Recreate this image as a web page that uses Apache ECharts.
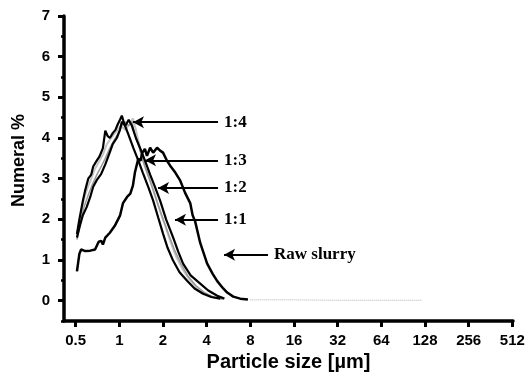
<!DOCTYPE html>
<html>
<head>
<meta charset="utf-8">
<script src="https://cdn.jsdelivr.net/npm/echarts@6/dist/echarts.min.js"></script>
<style>
  html, body { margin: 0; padding: 0; background: #fff; }
  #chart { width: 529px; height: 381px; }
</style>
</head>
<body>
<div id="chart"></div>
<script>
// 坐标轴刻度
const xTicks = [0.5, 1, 2, 4, 8, 16, 32, 64, 128, 256, 512]
const yTicks = [0, 1, 2, 3, 4, 5, 6, 7]

// Raw slurry
const rawSize = [0.51, 0.53, 0.545, 0.58, 0.63, 0.68, 0.72, 0.75, 0.77, 0.80, 0.86, 0.93, 1.01, 1.06, 1.13, 1.19, 1.24, 1.28, 1.35, 1.40, 1.44, 1.50, 1.55, 1.63, 1.71, 1.82, 1.91, 2.00, 2.13, 2.24, 2.43, 2.63, 2.84, 3.08, 3.20, 3.33, 3.61, 4.03, 4.40, 4.73, 5.20, 5.54, 6.10, 6.81, 7.70]
const rawPct = [0.72, 1.15, 1.26, 1.22, 1.23, 1.26, 1.45, 1.47, 1.38, 1.55, 1.67, 1.84, 2.09, 2.40, 2.55, 2.63, 2.83, 3.15, 3.49, 3.44, 3.64, 3.73, 3.56, 3.76, 3.64, 3.76, 3.69, 3.64, 3.44, 3.32, 3.15, 2.95, 2.65, 2.40, 2.10, 1.95, 1.42, 0.91, 0.66, 0.48, 0.30, 0.20, 0.10, 0.05, 0.03]

// 1:1
const r11Size = [0.51, 0.535, 0.56, 0.595, 0.63, 0.66, 0.70, 0.75, 0.80, 0.86, 0.90, 0.96, 1.01, 1.04, 1.10, 1.16, 1.22, 1.30, 1.39, 1.50, 1.63, 1.76, 1.91, 2.10, 2.35, 2.55, 2.75, 3.10, 3.61, 4.10, 4.73, 5.30]
const r11Pct = [1.55, 1.85, 2.10, 2.30, 2.55, 2.80, 2.97, 3.12, 3.35, 3.65, 3.85, 4.00, 4.20, 4.40, 4.30, 4.45, 4.30, 4.00, 3.75, 3.45, 3.10, 2.80, 2.46, 2.00, 1.55, 1.20, 0.91, 0.62, 0.42, 0.25, 0.12, 0.05]

// 1:2
const r12Size = [0.51, 0.54, 0.57, 0.61, 0.65, 0.70, 0.75, 0.80, 0.86, 0.92, 0.98, 1.04, 1.10, 1.16, 1.22, 1.28, 1.36, 1.45, 1.57, 1.70, 1.85, 2.00, 2.20, 2.40, 2.65, 2.95, 3.35, 3.85, 4.40, 5.10]
const r12Pct = [1.50, 1.95, 2.30, 2.60, 2.85, 3.10, 3.30, 3.50, 3.75, 3.95, 4.10, 4.30, 4.40, 4.30, 4.40, 4.10, 3.80, 3.45, 3.10, 2.75, 2.35, 2.00, 1.60, 1.25, 0.92, 0.62, 0.38, 0.20, 0.09, 0.04]

// 1:3
const r13Size = [0.51, 0.53, 0.56, 0.58, 0.61, 0.64, 0.66, 0.70, 0.73, 0.77, 0.80, 0.83, 0.86, 0.90, 0.94, 0.97, 1.01, 1.04, 1.08, 1.15, 1.25, 1.35, 1.45, 1.60, 1.71, 1.85, 2.00, 2.15, 2.35, 2.60, 2.93, 3.30, 3.78, 4.30, 4.96]
const r13Pct = [1.64, 2.00, 2.45, 2.70, 3.00, 3.10, 3.30, 3.45, 3.55, 3.75, 4.18, 4.05, 4.00, 4.12, 4.20, 4.32, 4.45, 4.55, 4.35, 4.10, 3.75, 3.45, 3.15, 2.75, 2.46, 2.05, 1.65, 1.30, 0.98, 0.70, 0.49, 0.30, 0.17, 0.09, 0.05]

// 1:4
const r14Size = [0.51, 0.54, 0.57, 0.60, 0.64, 0.68, 0.72, 0.77, 0.82, 0.88, 0.95, 1.02, 1.10, 1.18, 1.24, 1.30, 1.40, 1.50, 1.63, 1.76, 1.91, 2.07, 2.25, 2.45, 2.70, 3.00, 3.40, 3.90, 4.50, 5.20]
const r14Pct = [1.60, 2.10, 2.50, 2.75, 3.00, 3.25, 3.40, 3.60, 3.85, 4.00, 4.15, 4.30, 4.20, 4.35, 4.48, 4.20, 3.70, 3.30, 2.95, 2.60, 2.20, 1.85, 1.45, 1.10, 0.80, 0.55, 0.33, 0.17, 0.08, 0.04]

// 尾部（灰色虚线）
const tailSize = [8, 16, 32, 64, 122]
const tailPct = [0.02, 0.02, 0.01, 0.01, 0.01]

const toXY = (sizes, pcts) => sizes.map((s, i) => [Math.log2(s), pcts[i]])

const chart = echarts.init(document.getElementById('chart'))

const fontSans = 'Liberation Sans, Arial, sans-serif'
const fontSerif = 'Liberation Serif, Times New Roman, serif'

// 箭头标注：[名称, 箭头尖端(µm, %), 尾端(µm, %)]
const arrows = [
  ['1:4', [1.241, 4.39], [4.79, 4.39]],
  ['1:3', [1.502, 3.45], [4.79, 3.45]],
  ['1:2', [1.847, 2.77], [4.79, 2.77]],
  ['1:1', [2.418, 1.99], [4.79, 1.99]],
  ['Raw slurry', [5.27, 1.13], [10.59, 1.13]]
]

const lineSeries = (name, sizes, pcts, color, width, z, type) => ({
  name,
  type: 'line',
  data: toXY(sizes, pcts),
  showSymbol: false,
  z,
  lineStyle: { color, width, type: type || 'solid' },
  itemStyle: { color }
})

const rawSeries = lineSeries('Raw slurry', rawSize, rawPct, '#000', 2.5, 5)
rawSeries.markLine = {
  silent: true,
  symbol: ['arrow', 'none'],
  symbolSize: [9, 11],
  lineStyle: { color: '#000', width: 2.2, type: 'solid' },
  label: {
    show: true,
    position: 'end',
    formatter: '{b}',
    fontFamily: fontSerif,
    fontWeight: 'bold',
    fontSize: 17,
    color: '#000',
    distance: 6
  },
  emphasis: { disabled: true },
  data: arrows.map(([name, tip, end]) => [
    { name, coord: [Math.log2(tip[0]), tip[1]] },
    { coord: [Math.log2(end[0]), end[1]] }
  ])
}

const option = {
  animation: false,
  backgroundColor: '#fff',
  grid: { left: 64, right: 16, top: 16, bottom: 60 },
  xAxis: {
    type: 'value',
    min: -1.268,
    max: 9.016,
    name: 'Particle size [µm]',
    nameLocation: 'middle',
    nameGap: 26,
    nameTextStyle: { fontFamily: fontSans, fontWeight: 'bold', fontSize: 20, color: '#000' },
    axisLine: { show: true, onZero: false, lineStyle: { color: '#000', width: 3.5 } },
    axisTick: {
      show: true,
      length: 6,
      customValues: xTicks.map(v => Math.log2(v)),
      lineStyle: { color: '#000', width: 3 }
    },
    axisLabel: {
      customValues: xTicks.map(v => Math.log2(v)),
      formatter: v => String(Math.round(Math.pow(2, v) * 10) / 10),
      fontFamily: fontSans,
      fontWeight: 'bold',
      fontSize: 15,
      color: '#000',
      margin: 12
    },
    splitLine: { show: false }
  },
  yAxis: [
    {
      type: 'value',
      min: -0.5,
      max: 7,
      interval: 0.5,
      name: 'Numeral %',
      nameLocation: 'middle',
      nameGap: 36,
      nameTextStyle: { fontFamily: fontSans, fontWeight: 'bold', fontSize: 18, color: '#000', padding: [0, 0, 0, 16] },
      axisLine: { show: true, onZero: false, lineStyle: { color: '#000', width: 3.5 } },
      axisTick: { show: true, length: 3, lineStyle: { color: '#000', width: 2.5 } },
      axisLabel: {
        formatter: v => (Number.isInteger(v) && v >= 0 ? String(v) : ''),
        fontFamily: fontSans,
        fontWeight: 'bold',
        fontSize: 15,
        color: '#000',
        margin: 14
      },
      splitLine: { show: false }
    },
    {
      // 主刻度（整数处加长）
      type: 'value',
      min: -0.5,
      max: 7,
      position: 'left',
      axisLine: { show: false, onZero: false },
      axisTick: { show: true, length: 6, customValues: yTicks, lineStyle: { color: '#000', width: 3 } },
      axisLabel: { show: false },
      splitLine: { show: false }
    }
  ],
  series: [
    lineSeries('tail', tailSize, tailPct, '#b0b0b0', 1, 1, 'dotted'),
    lineSeries('1:4', r14Size, r14Pct, '#c4c4c4', 2, 2),
    lineSeries('1:2', r12Size, r12Pct, '#9a9a9a', 1.5, 3),
    lineSeries('1:3', r13Size, r13Pct, '#000', 2.2, 4),
    lineSeries('1:1', r11Size, r11Pct, '#000', 2.2, 4),
    rawSeries
  ]
}

chart.setOption(option)
</script>
</body>
</html>
